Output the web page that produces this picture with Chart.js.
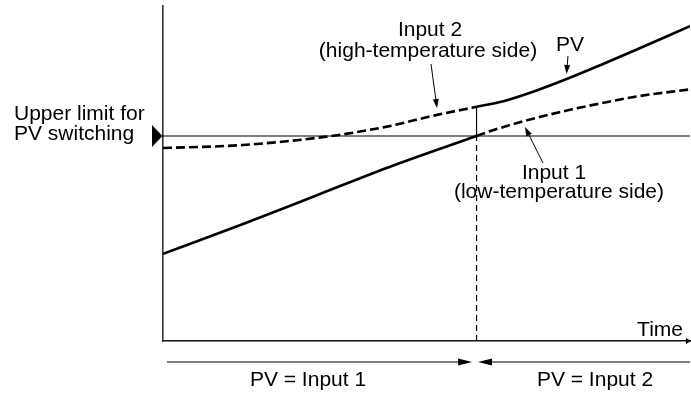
<!DOCTYPE html>
<html>
<head>
<meta charset="utf-8">
<script src="https://cdn.jsdelivr.net/npm/chart.js@4.4.1/dist/chart.umd.min.js"></script>
<style>
  html, body { margin: 0; padding: 0; background: #fff; }
  #wrap { width: 691px; height: 394px; position: relative; }
</style>
</head>
<body>
<div id="wrap"><canvas id="myChart"></canvas></div>
<script>
// time axis 0..100, value axis 0..100 (arbitrary units)
const input1Time   = [0, 15.2, 29.8, 43.7, 59.5, 62.0, 68.4, 77.2, 83.9, 89.9, 100];
const input1Values = [26.0, 34.9, 43.9, 52.4, 61.2, 62.6, 65.6, 69.0, 71.2, 73.0, 75.1];
const input2Time   = [0, 15.1, 31.0, 42.5, 52.0, 59.5, 64.6, 70.9, 76.6, 83.5, 89.9, 100];
const input2Values = [57.6, 58.5, 61.0, 64.0, 67.5, 69.9, 71.6, 74.8, 78.2, 82.7, 87.0, 94.0];
const switchTime = 59.5;   // where input 1 reaches the limit
const switchLevel = 61.2;  // upper limit for PV switching

// pick the part of a curve between two times
function part(times, values, from, to) {
    const pts = [];
    times.forEach((t, i) => {
        if (t >= from && t <= to) pts.push({ x: t, y: values[i] });
    });
    return pts;
}

const input2AtSwitch = input2Values[input2Time.indexOf(switchTime)];

const solid = { borderColor: '#000', borderWidth: 2.6, cubicInterpolationMode: 'monotone' };
const dashed = { borderColor: '#000', borderWidth: 2.6, borderDash: [9, 4], cubicInterpolationMode: 'monotone' };

const data = {
    datasets: [
        // PV (solid) - drawn on top
        { label: 'PV', data: part(input1Time, input1Values, 0, switchTime), ...solid },
        { label: 'PV', data: part(input2Time, input2Values, switchTime, 100), ...solid },
        // inputs where they are not the PV (dashed)
        { label: 'Input 1', data: part(input1Time, input1Values, switchTime, 100), ...dashed },
        { label: 'Input 2', data: part(input2Time, input2Values, 0, switchTime), ...dashed },
        // switching step and limit
        { label: 'step', data: [{ x: switchTime, y: switchLevel }, { x: switchTime, y: input2AtSwitch }], borderColor: '#000', borderWidth: 1.2 },
        { label: 'switch', data: [{ x: switchTime, y: 0 }, { x: switchTime, y: switchLevel }], borderColor: '#000', borderWidth: 1.2, borderDash: [6, 4] },
        { label: 'limit', data: [{ x: 0, y: switchLevel }, { x: 100, y: switchLevel }], borderColor: '#000', borderWidth: 1.2 }
    ]
};

function arrow(ctx, x1, y1, x2, y2, len, half) {
    const ang = Math.atan2(y2 - y1, x2 - x1);
    ctx.beginPath();
    ctx.moveTo(x1, y1);
    ctx.lineTo(x2 - Math.cos(ang) * len * 0.8, y2 - Math.sin(ang) * len * 0.8);
    ctx.stroke();
    ctx.beginPath();
    ctx.moveTo(x2, y2);
    ctx.lineTo(x2 - Math.cos(ang) * len + Math.sin(ang) * half, y2 - Math.sin(ang) * len - Math.cos(ang) * half);
    ctx.lineTo(x2 - Math.cos(ang) * len - Math.sin(ang) * half, y2 - Math.sin(ang) * len + Math.cos(ang) * half);
    ctx.closePath();
    ctx.fill();
}

const sketchPlugin = {
    id: 'sketch',
    afterDraw(chart) {
        const { ctx, chartArea: a, scales: { x, y } } = chart;
        const ly = y.getPixelForValue(switchLevel);
        const sx = x.getPixelForValue(switchTime);
        ctx.save();
        ctx.fillStyle = '#000';
        ctx.strokeStyle = '#000';
        ctx.lineWidth = 1;

        // limit marker
        ctx.beginPath();
        ctx.moveTo(a.left - 11, ly - 11);
        ctx.lineTo(a.left - 11, ly + 11);
        ctx.lineTo(a.left - 0.5, ly);
        ctx.closePath();
        ctx.fill();

        // time axis arrow head
        ctx.beginPath();
        ctx.moveTo(a.right + 1, a.bottom);
        ctx.lineTo(a.right - 4, a.bottom - 3);
        ctx.lineTo(a.right - 4, a.bottom + 3);
        ctx.closePath();
        ctx.fill();

        // pointer arrows
        arrow(ctx, 431, 64, 437, 108, 9, 3);
        arrow(ctx, 568, 56, 566.5, 74, 9, 3);
        arrow(ctx, 543, 163, 525, 127, 9, 3);

        // range arrows under the axis
        const by = a.bottom + 21;
        arrow(ctx, a.left + 4, by, sx - 4.5, by, 14, 3.5);
        arrow(ctx, a.right, by, sx + 1.5, by, 14, 3.5);

        // texts
        ctx.font = '21px "Liberation Sans", Arial, sans-serif';
        ctx.textBaseline = 'alphabetic';
        ctx.textAlign = 'left';
        ctx.fillText('Upper limit for', 14, 120);
        ctx.fillText('PV switching', 14, 140);
        ctx.textAlign = 'center';
        ctx.fillText('Input 2', 430, 36);
        ctx.fillText('(high-temperature side)', 428, 57);
        ctx.fillText('PV', 570, 51);
        ctx.fillText('Input 1', 554, 179);
        ctx.fillText('(low-temperature side)', 559, 198);
        ctx.fillText('PV = Input 1', 308, 386);
        ctx.fillText('PV = Input 2', 595, 386);
        ctx.textAlign = 'right';
        ctx.fillText('Time', 683, 336);
        ctx.restore();
    }
};

const config = {
    type: 'scatter',
    data,
    options: {
        responsive: true,
        maintainAspectRatio: false,
        animation: false,
        showLine: true,
        elements: { point: { radius: 0, hoverRadius: 0 } },
        layout: { padding: { left: 163, right: 1, top: 6, bottom: 53 } },
        plugins: { legend: { display: false }, tooltip: { enabled: false } },
        scales: {
            x: {
                type: 'linear', min: 0, max: 100,
                grid: { display: false, drawTicks: false },
                ticks: { display: false },
                border: { display: true, color: '#111', width: 1.4 }
            },
            y: {
                type: 'linear', min: 0, max: 100,
                grid: { display: false, drawTicks: false },
                ticks: { display: false },
                border: { display: true, color: '#333', width: 1.6 }
            }
        }
    },
    plugins: [sketchPlugin]
};

const myChart = new Chart(document.getElementById('myChart'), config);
</script>
</body>
</html>
